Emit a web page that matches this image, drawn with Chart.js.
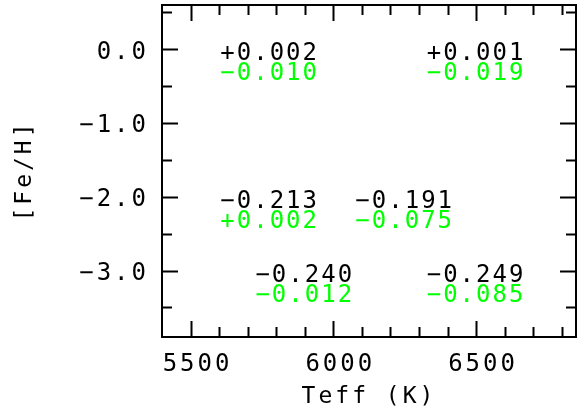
<!DOCTYPE html>
<html>
<head>
<meta charset="utf-8">
<script src="https://cdn.jsdelivr.net/npm/chart.js@4.4.1/dist/chart.umd.min.js"></script>
<style>
  html, body { margin: 0; padding: 0; background: #fff; }
</style>
</head>
<body>
<canvas id="chart" width="585" height="412"></canvas>
<script>
// grid points (Teff, [Fe/H]) and the two numbers written at each one
const teff = [5777, 6500, 5777, 6250, 5900, 6500];
const feh = [0.0, 0.0, -2.0, -2.0, -3.0, -3.0];
const blackValues = [0.002, 0.001, -0.213, -0.191, -0.240, -0.249];
const greenValues = [-0.010, -0.019, 0.002, -0.075, -0.012, -0.085];

const xMajorTicks = [5500, 6000, 6500];
const xMinorTicks = [5600, 5700, 5800, 5900, 6100, 6200, 6300, 6400, 6600, 6700, 6800];
const yMajorTicks = [0, -1, -2, -3];
const yMinorTicks = [0.5, -0.5, -1.5, -2.5, -3.5];

const MINUS = '\u2212';
const FONT = '"DejaVu Sans Mono", "Liberation Mono", monospace';

const signed = v => (v < 0 ? MINUS : '+') + Math.abs(v).toFixed(3);
const points = teff.map((t, i) => ({ x: t, y: feh[i] }));

// frame, inward ticks on all four sides, and the text marks
const framePlugin = {
    id: 'frame',
    beforeDraw: (chart) => {
        chart.ctx.letterSpacing = '3px';
    },
    afterDatasetsDraw: (chart) => {
        const { ctx, chartArea: { left, right, top, bottom }, scales: { x, y } } = chart;
        ctx.save();
        ctx.strokeStyle = '#000';
        ctx.lineWidth = 2;
        ctx.strokeRect(left, top, right - left, bottom - top);

        const xTicks = (vals, len) => {
            vals.forEach(v => {
                const px = Math.round(x.getPixelForValue(v)) + 0.5;
                ctx.beginPath();
                ctx.moveTo(px, bottom); ctx.lineTo(px, bottom - len);
                ctx.moveTo(px, top); ctx.lineTo(px, top + len);
                ctx.stroke();
            });
        };
        const yTicks = (vals, len) => {
            vals.forEach(v => {
                const py = Math.round(y.getPixelForValue(v)) + 0.5;
                ctx.beginPath();
                ctx.moveTo(left, py); ctx.lineTo(left + len, py);
                ctx.moveTo(right, py); ctx.lineTo(right - len, py);
                ctx.stroke();
            });
        };
        xTicks(xMajorTicks, 16);
        xTicks(xMinorTicks, 10);
        yTicks(yMajorTicks, 16);
        yTicks(yMinorTicks, 10);

        ctx.font = '24px ' + FONT;
        ctx.letterSpacing = '2px';
        ctx.textAlign = 'center';
        ctx.textBaseline = 'alphabetic';
        chart.data.datasets.forEach((ds, di) => {
            const meta = chart.getDatasetMeta(di);
            ctx.fillStyle = ds.textColor;
            meta.data.forEach((pt, i) => {
                ctx.fillText(ds.texts[i], pt.x, pt.y + ds.textShift);
            });
        });
        ctx.restore();
    }
};

new Chart(document.getElementById('chart').getContext('2d'), {
    type: 'scatter',
    plugins: [framePlugin],
    data: {
        datasets: [
            {
                label: 'black',
                data: points,
                texts: blackValues.map(signed),
                textColor: '#000000',
                textShift: 11,
                pointRadius: 0
            },
            {
                label: 'green',
                data: points,
                texts: greenValues.map(signed),
                textColor: '#00ff00',
                textShift: 31,
                pointRadius: 0
            }
        ]
    },
    options: {
        responsive: false,
        animation: false,
        layout: { padding: { top: 5, right: 9, left: 0, bottom: 0 } },
        plugins: {
            legend: { display: false },
            tooltip: { enabled: false }
        },
        scales: {
            x: {
                type: 'linear',
                min: 5400,
                max: 6850,
                afterBuildTicks: (s) => { s.ticks = xMajorTicks.map(v => ({ value: v })); },
                afterFit: (s) => {
                    s.height = 75;
                    s.paddingLeft = 0;
                    s.paddingRight = 0;
                },
                grid: { display: false, drawTicks: false },
                border: { display: false },
                ticks: {
                    color: '#000',
                    font: { family: FONT, size: 24 },
                    padding: 13,
                    labelOffset: 7,
                    maxRotation: 0,
                    autoSkip: false,
                    callback: (v) => String(v)
                },
                title: {
                    display: true,
                    text: 'Teff (K)',
                    color: '#000',
                    font: { family: FONT, size: 23 },
                    padding: { top: 0, bottom: 1 }
                }
            },
            y: {
                type: 'linear',
                min: -3.9,
                max: 0.6,
                afterBuildTicks: (s) => { s.ticks = yMajorTicks.map(v => ({ value: v })); },
                afterFit: (s) => {
                    s.width = 162;
                    s.paddingTop = 0;
                    s.paddingBottom = 0;
                },
                grid: { display: false, drawTicks: false },
                border: { display: false },
                ticks: {
                    color: '#000',
                    font: { family: FONT, size: 24 },
                    padding: 13,
                    labelOffset: 3,
                    callback: (v) => (v < 0 ? MINUS : '') + Math.abs(v).toFixed(1)
                },
                title: {
                    display: true,
                    text: '[Fe/H]',
                    color: '#000',
                    font: { family: FONT, size: 23 },
                    padding: { top: 11, bottom: 0 }
                }
            }
        }
    }
});
</script>
</body>
</html>
